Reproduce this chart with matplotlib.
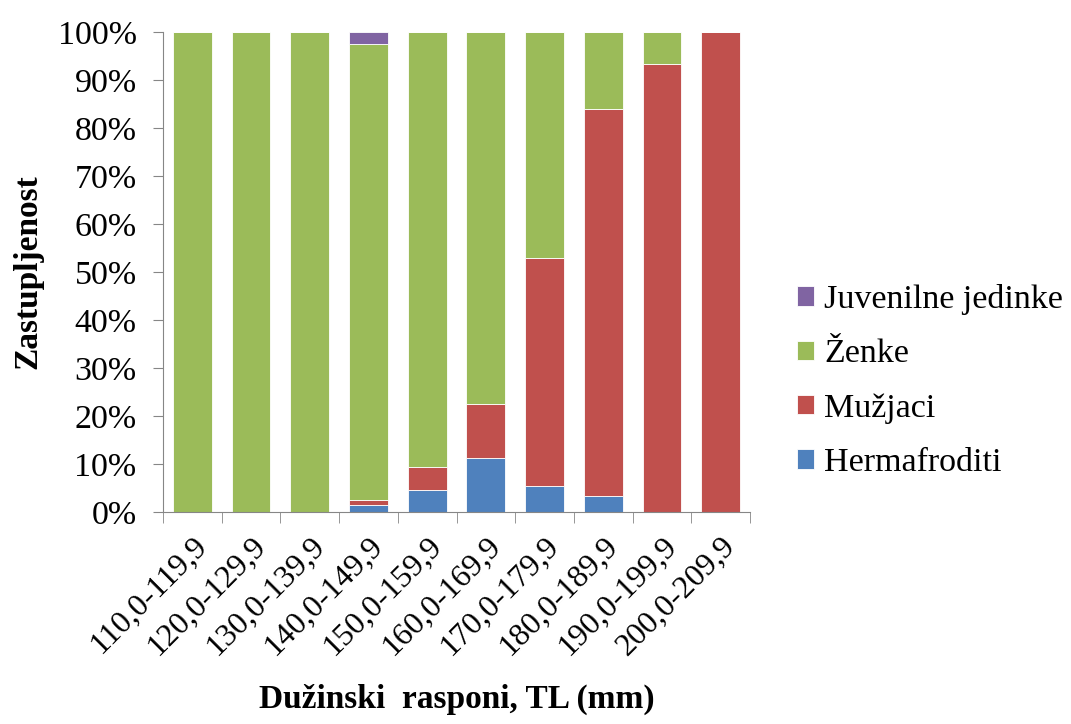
import matplotlib
matplotlib.use("Agg")
import matplotlib.pyplot as plt
from matplotlib.ticker import PercentFormatter, FixedLocator
import numpy as np

# length ranges (TL, mm)
categories = ["110,0-119,9", "120,0-129,9", "130,0-139,9", "140,0-149,9",
              "150,0-159,9", "160,0-169,9", "170,0-179,9", "180,0-189,9",
              "190,0-199,9", "200,0-209,9"]

# share per group, %
hermafroditi = [0, 0, 0, 1.4, 4.6, 11.3, 5.5, 3.4, 0, 0]
muzjaci = [0, 0, 0, 1.05, 4.7, 11.1, 47.5, 80.6, 93.4, 100]
zenke = [100, 100, 100, 95.15, 90.7, 77.6, 47.0, 16.0, 6.6, 0]
juvenilne = [0, 0, 0, 2.4, 0, 0, 0, 0, 0, 0]

series = [("Hermafroditi", hermafroditi, "#4F81BD"),
          ("Mužjaci", muzjaci, "#C0504D"),
          ("Ženke", zenke, "#9BBB59"),
          ("Juvenilne jedinke", juvenilne, "#8064A2")]

plt.rcParams['font.family'] = ['Liberation Serif', 'DejaVu Serif']

fig = plt.figure(figsize=(10.71, 7.24), dpi=100)
ax = fig.add_axes([163 / 1071, 1 - 512 / 724, 587 / 1071, 480 / 724])

x = np.arange(len(categories))
bottom = np.zeros(len(categories))
for name, vals, col in series:
    vals = np.array(vals, dtype=float)
    ax.bar(x, vals, 0.66, bottom=bottom, color=col, edgecolor="white",
           linewidth=0.6, label=name)
    bottom += vals

ax.set_xlim(-0.5, len(categories) - 0.5)
ax.set_ylim(0, 100)
ax.set_yticks(np.arange(0, 101, 10))
ax.yaxis.set_major_formatter(PercentFormatter(decimals=0))

ax.set_xticks(x)
ax.set_xticklabels(categories, rotation=45, ha="right", rotation_mode="anchor",
                   fontsize=23)
ax.xaxis.set_minor_locator(FixedLocator(np.arange(-0.5, len(categories), 1)))
ax.tick_params(axis="x", which="major", length=0, pad=14)
ax.tick_params(axis="x", which="minor", length=8, color="#868686")
ax.tick_params(axis="y", length=7, color="#868686", labelsize=24.5, pad=12)

for s in ["top", "right"]:
    ax.spines[s].set_visible(False)
for s in ["left", "bottom"]:
    ax.spines[s].set_color("#868686")

ax.set_ylabel("Zastupljenost", fontsize=24, fontweight="bold", labelpad=10)
ax.set_xlabel("Dužinski  rasponi, TL (mm)", fontsize=24, fontweight="bold",
              labelpad=16)

h, l = ax.get_legend_handles_labels()
ax.legend(h[::-1], l[::-1], loc="center left", frameon=False, fontsize=24.5,
          bbox_to_anchor=(797 / 1071, 1 - 381 / 724),
          bbox_transform=fig.transFigure, borderpad=0, borderaxespad=0,
          handlelength=0.5, handleheight=0.5, handletextpad=0.3,
          labelspacing=0.7)

fig.savefig("out.png", dpi=100)
